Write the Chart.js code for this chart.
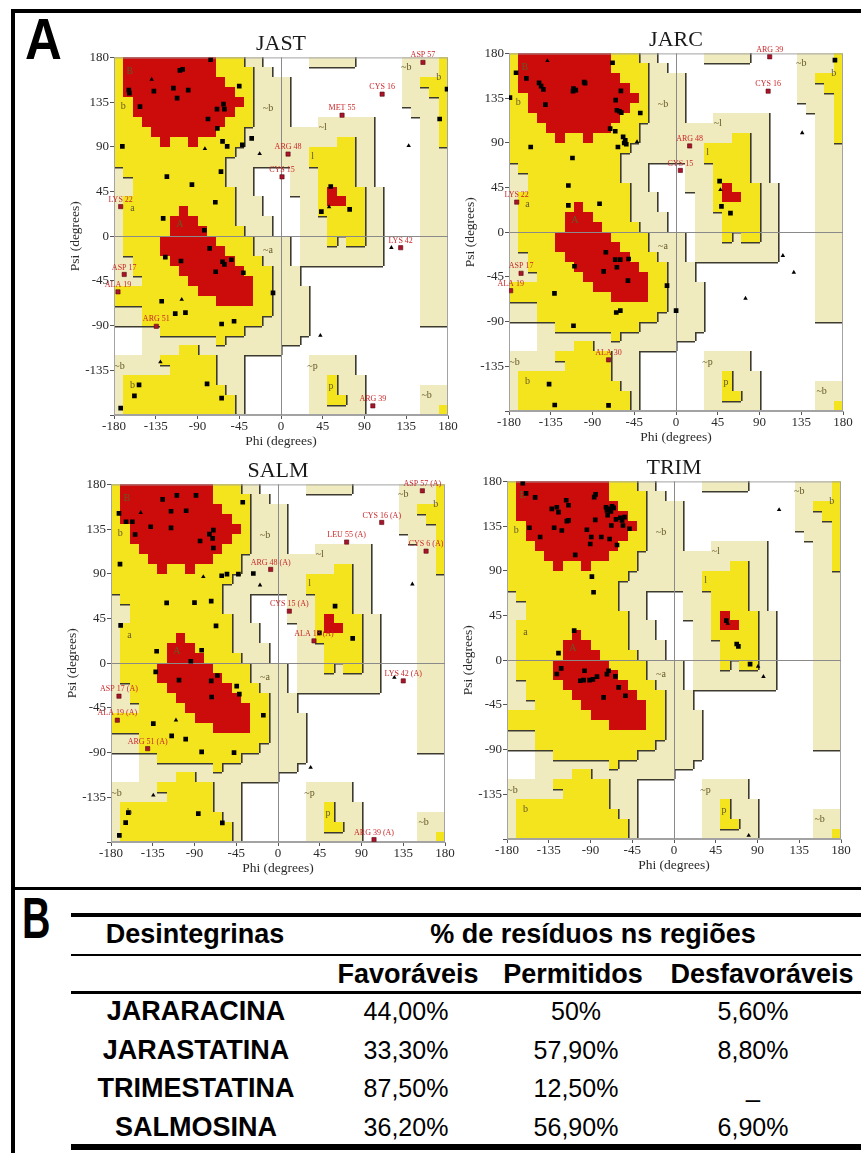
<!DOCTYPE html>
<html>
<head>
<meta charset="utf-8">
<title>Ramachandran plots - desintegrinas</title>
<script src="https://cdn.jsdelivr.net/npm/chart.js"></script>
<style>
    body {
        margin: 0;
        width: 861px;
        height: 1153px;
        position: relative;
        overflow: hidden;
        background: #fff;
        font-family: "Liberation Sans", Arial, sans-serif;
    }
    .bar { position: absolute; background: #000; }
    .panel {
        position: absolute;
        font-size: 58px;
        font-weight: bold;
        line-height: 1;
        transform-origin: 0 0;
    }
    canvas.rama { position: absolute; }
    .cell {
        position: absolute;
        transform: translate(-50%, -50%);
        white-space: nowrap;
        line-height: 1;
        color: #000;
    }
    .head { font-size: 27px; font-weight: bold; }
    .name { font-size: 27px; font-weight: bold; }
    .val  { font-size: 25px; }
</style>
</head>
<body>
    <!-- frame of the figure -->
    <div class="bar" style="left:11px; top:9px; width:850px; height:4px;"></div>
    <div class="bar" style="left:11px; top:9px; width:4px; height:1144px;"></div>
    <div class="bar" style="left:11px; top:887px; width:850px; height:3px;"></div>

    <div class="panel" style="left:25px; top:10px; transform:scaleX(0.88);">A</div>
    <div class="panel" style="left:22px; top:889px; transform:scaleX(0.68);">B</div>

    <canvas id="jast" class="rama" width="395" height="419" style="left:67px; top:31px;"></canvas>
    <canvas id="jarc" class="rama" width="395" height="419" style="left:462px; top:27px;"></canvas>
    <canvas id="salm" class="rama" width="395" height="419" style="left:64px; top:458px;"></canvas>
    <canvas id="trim" class="rama" width="395" height="419" style="left:460px; top:455px;"></canvas>

    <!-- table B -->
    <div class="bar" style="left:71px; top:913px; width:790px; height:4px;"></div>
    <div class="bar" style="left:71px; top:954px; width:790px; height:2px;"></div>
    <div class="bar" style="left:71px; top:991px; width:790px; height:3px;"></div>
    <div class="bar" style="left:71px; top:1144px; width:790px; height:6px;"></div>
    <div id="table"></div>

<script>
// Ramachandran region map (PROCHECK style), 10 degree cells.
// rows: psi 180 -> -180, columns: phi -180 -> 180
// R core, Y allowed, G generously allowed, . disallowed
const regionMap = [
    "YRRRRRRRRRRYYYGG.....GGGGG.....GGGGY",
    "YRRRRRRRRRRYYYYGG..............GGGGY",
    "YRRRRRRRRRRRYYYGGGG............GGYYY",
    "YRRRRRRRRRRRRYYGGGG............GGGYY",
    "YYRRRRRRRRRRRRYGGGG............GGGGY",
    "YYRRRRRRRRRRRYYGGGG.............GGGY",
    "YYYRRRRRRRRRYYYGGGG...GGGGGG.....GGY",
    "YYYYRRRRRRRYYYGGGGGGGGGGGGGG.....GGY",
    "YYYYYRYYRYYYYYGGGGGGGGGGYYGG.....GGY",
    "YYYYYYYYYYYYYGGGGGGGGYYYYYGG.....GGG",
    "YYYYYYYYYYYYGGGGGGGGGYYYYYGG.....GGG",
    "GYYYYYYYYYYYGGG....GGGYYYYGG.....GGG",
    "GGYYYYYYYYYYGGG....GGGYYYYGG.....GGG",
    "GGYYYYYYYYYYYGG....GGGYRYYYGG....GGG",
    "GYYYYYYYYYYYYGGG....GGYRRYYGG....GGG",
    "GYYYYYYRYYYYYGGG....GGYYYYYGG....GGG",
    "GYYYYYRRRYYYYGGGG...GGGYYYYGG....GGG",
    "GYYYYYRRRRYYYYGGG...GGGYYYYGG....GGG",
    "GYYYYRRRRRRYYYYGGGG.GGGYGYYGG....GGG",
    "GYYYYRRRRRRRYYYGGGG.GGGGGGGGG....GGG",
    "GGYYYYRRRRRRRYYYGGG.GGGGGGGGG....GGG",
    "GGYYYYYRRRRRRRYYYGGG.............GGG",
    "GGGYYYYYRRRRRRRYYGGG.............GGG",
    "YYYYYYYYYRRRRRRYYGGGG............GGG",
    "YYYYYYYYYYYRRRRYYGGGG............GGG",
    "GGGYYYYYYYYYYYYYYGGGG............GGG",
    "GGGYYYYYYYYYYYYYGGGGG............GGG",
    "...GGYYYYYYYYYGGGGGGG...............",
    "...GGGGGGGGYGGGGGGGG................",
    "...GGGGYYGGGGGGGGG..................",
    "GGGGGYYYYYYGGG.......GGGGG..........",
    "GGGGGGYYYYYGGG.......GGGGG..........",
    "GYYYYYYYYYYGGG.......GGYGGG.........",
    "GYYYYYYYYYYYGG.......GGYGGG......GGG",
    "GYYYYYYYYYYYYG.......GGYYGG......GGG",
    "GYYYYYYYYYYYYG.......GGGGGG......GGY"
];

const regionLabels = [
    ['B', -163, 166], ['b', -170, 131], ['~b', -14, 129], ['~l', 45, 110], ['l', 34, 80],
    ['a', -160, 28], ['A', -109, 12], ['~a', -14, -14], ['~b', 135, 170], ['b', 170, 160],
    ['~b', -174, -131], ['b', -160, -150], ['~p', 34, -131], ['p', 54, -151], ['~b', 157, -160]
];

// [phi, psi] of residues, glycines (triangles) and labelled outliers
const jastRes = [[-75.8,177.6],[-109,167],[-106,168],[-164,147],[-163.5,144],[-137,146],[-116,149],[-112,139],
    [-100,147],[-45,151],[-152,130.5],[-62,133],[-61,128],[-69,128],[-78.7,118],[-68.6,108.6],[-171,90.4],
    [-63,95.5],[-58,90.4],[-41.7,92],[-31.6,98.5],[-123,60],[-96,52],[-64.7,65],[-70.8,34.2],[-127,18],
    [-82.6,6],[-124.7,-21],[-76.9,-12.3],[-107.8,-25],[-63,-25.7],[-61,-28.4],[-53.5,-23.7],[-70.4,-35.8],
    [-40.6,-36.8],[-8.6,-57],[-128.6,-65.5],[-114,-78],[-103,-77],[-64,-88.4],[-50.6,-85.6],[-153,-149.6],
    [-158,-160.7],[-79.7,-148.6],[-64,-163],[-172.8,-173],[53.6,50],[43.5,24.8],[74,27],[179,148],[171,118]];
const jastGly = [[-139.4,157.8],[-82,88],[-23,83],[-107,-63.8],[42.4,-100],[-130,-126.7],[51.8,29.5],
    [137.6,91],[119,-11.6]];
const jastOut = [[153,175,'ASP 57'],[109,143,'CYS 16'],[65.8,121.8,'MET 55'],[7.6,82.7,'ARG 48'],
    [1.1,59.8,'CYS 15'],[-172.8,29.8,'LYS 22'],[129,-11.6,'LYS 42'],[-169,-38.5,'ASP 17'],
    [-175.7,-56,'ALA 19'],[-134.4,-90.7,'ARG 51'],[99,-170.8,'ARG 39']];

const jarcRes = [[-68.4,170.6],[-172.4,160.5],[-161.3,154.8],[-147.6,150.4],[-145.4,147],[-143,143.7],
    [-140.8,128.5],[-111,142],[-110.5,144.7],[-108,143],[-99,151],[-98,150],[-59.4,142.3],[-65,133],
    [-63.7,122.8],[-61,121.8],[-59,120.4],[-38.5,120],[-71,104.3],[-65.5,101.6],[-57,96],[-54.7,92.5],
    [-55.8,89.8],[-62.6,85.8],[-53.6,88.5],[-156.6,85.8],[-111.6,74.7],[-116,47],[-116,27],[-82.4,28.6],
    [47,51.5],[49,26],[58.7,19.2],[-75.6,-20.2],[-65.5,-27.6],[-60.1,-27.6],[-63.7,-35.3],[-109.4,-34.3],
    [-51.1,-27],[-78,-39.4],[-51.8,-48.8],[-9.7,-53.8],[-131,-61.6],[-64.4,-80.8],[-60,-79],[0.1,-79],
    [-110.5,-94.2],[-136.8,-153],[-130.7,-174],[-72.7,-174.3],[171.3,173.3],[-179,135.5]];
const jarcGly = [[-42,91],[47.9,42.7],[136,100],[115.2,-23.6],[127,-40.4],[74.9,-66.6],[-138.6,172.6]];
const jarcOut = [[101,176.6,'ARG 39'],[99.3,142,'CYS 16'],[14.7,86.8,'ARG 48'],[4.7,62.2,'CYS 15'],
    [-171.7,30.3,'LYS 22'],[-167,-41.4,'ASP 17'],[-178.2,-58.9,'ALA 19'],[-72.7,-128.5,'ALA 30']];

const salmRes = [[-171.4,150.8],[-163.8,142.4],[-157,142.4],[-154,129.6],[-137.2,137.4],[-124.3,165],
    [-115.3,153],[-115.3,136.3],[-109,169],[-99,153.5],[-88.4,169],[-84,123],[-74,130],[-69.7,134],
    [-70.4,125.6],[-69.7,116],[-38,162],[-170.3,99.7],[-60.7,88],[-55,89.7],[-42.7,89.7],[-26.6,90.3],
    [-120,60.8],[-90,61],[-72,62.5],[-66.8,37.6],[-169.6,38],[-130.8,12],[-131.8,-8.7],[-94,2],[-82.3,13],
    [-106.7,-17],[-72,-17.8],[-65.4,-12.4],[-44.5,-23],[-41.7,-31.2],[-71.5,-34],[-15.8,-52.4],
    [-134.4,-60.8],[-114.6,-73.2],[-99.5,-76.5],[-82.3,-89.3],[-47.4,-90],[-161.3,-150.4],[-164.2,-160.5],
    [-171,-173.3],[-85.9,-151.4],[-60,-160.8],[61.5,57.4],[44.6,30.6],[80.5,25]];
const salmGly = [[-148,151.5],[-80.5,87],[-19.4,78.6],[-110,-57.4],[35.2,-105],[-134.4,-133],
    [125.4,-14.4],[144.8,79.6]];
const salmOut = [[155.6,173.6,'ASP 57 (A)'],[111.8,141.7,'CYS 16 (A)'],[74,122,'LEU 55 (A)'],
    [159.6,112.8,'CYS 6 (A)'],[-7.9,94.4,'ARG 48 (A)'],[12.2,52.4,'CYS 15 (A)'],[38.8,22.5,'ALA 18 (A)'],
    [135,-17.8,'LYS 42 (A)'],[-171.4,-33.2,'ASP 17 (A)'],[-173.2,-57.4,'ALA 19 (A)'],
    [-140.5,-86,'ARG 51 (A)'],[103.5,-177.6,'ARG 39 (A)']];

const trimRes = [[-163,178.3],[-159.5,168],[-149.7,164],[-155.9,133.3],[-144.3,124],[-131.7,152.4],
    [-126.3,154],[-124.5,149],[-129.2,133.3],[-120.9,130.6],[-116.2,161],[-113.7,156],[-115.5,140],
    [-113.7,140.7],[-106.5,106],[-93.9,131.3],[-89.2,124],[-90.3,117],[-86,164.2],[-84.5,167],[-84.9,141.3],
    [-78.4,124],[-73.3,154],[-72.3,150.8],[-69.7,152.4],[-68,149.7],[-71.5,146],[-67.6,135.6],[-69.4,122],
    [-61.4,116],[-62.5,141.7],[-57.8,143.4],[-56,140.7],[-55,135.6],[-53.2,144],[-48,132.3],[-65,153.4],
    [-66.8,154.8],[-88.5,84.2],[-86.7,68.4],[-107.6,29.7],[-124.5,7.2],[-126.3,-13.9],[-121.6,-8.2],
    [-96.4,-10.6],[-101,-20.7],[-97.5,-20],[-91,-20],[-87.4,-19.3],[-83,-16.6],[-72.3,-14],[-70.5,-10.6],
    [-63.2,-16.3],[-75.9,-37.5],[-59.6,-27.4],[-52.4,-35.8],[56.4,39.8],[67.6,16.3],[69.4,14],[82,-3.9]];
const trimGly = [[58,37],[90.6,-6.2],[96.4,-16.6],[113.3,151.4],[80.5,-176.5]];
const trimOut = [];

// table B
const tableNames = ['JARARACINA', 'JARASTATINA', 'TRIMESTATINA', 'SALMOSINA'];
const favoraveis = ['44,00%', '33,30%', '87,50%', '36,20%'];
const permitidos = ['50%', '57,90%', '12,50%', '56,90%'];
const desfavoraveis = ['5,60%', '8,80%', '_', '6,90%'];

const SERIF = '"Liberation Serif", "Times New Roman", serif';
const regionColors = { R: '#cc0b0b', Y: '#f4e41e', G: '#f0eabf' };
const level = c => c === '.' ? 0 : (c === 'G' ? 1 : 2);

// paints the regions under everything else
const regionPlugin = {
    id: 'regions',
    beforeDraw(chart) {
        const { ctx, chartArea: a, scales: { x, y } } = chart;
        const xe = [], ye = [];
        for (let i = 0; i <= 36; i++) {
            xe.push(Math.round(x.getPixelForValue(-180 + 10 * i)));
            ye.push(Math.round(y.getPixelForValue(180 - 10 * i)));
        }
        ctx.save();
        for (let j = 0; j < 36; j++) {
            for (let i = 0; i < 36; i++) {
                const c = regionMap[j][i];
                if (c === '.') continue;
                ctx.fillStyle = regionColors[c];
                ctx.fillRect(xe[i], ye[j], xe[i + 1] - xe[i], ye[j + 1] - ye[j]);
            }
        }
        // dark edges on the right / lower side of each higher region
        ctx.strokeStyle = '#3d3b30';
        ctx.lineWidth = 1.6;
        ctx.beginPath();
        for (let j = 0; j < 36; j++) {
            for (let i = 0; i < 36; i++) {
                const l = level(regionMap[j][i]);
                if (i < 35 && l > level(regionMap[j][i + 1])) {
                    ctx.moveTo(xe[i + 1] + 0.8, ye[j]);
                    ctx.lineTo(xe[i + 1] + 0.8, ye[j + 1]);
                }
                if (j < 35 && l > level(regionMap[j + 1][i])) {
                    ctx.moveTo(xe[i], ye[j + 1] + 0.8);
                    ctx.lineTo(xe[i + 1], ye[j + 1] + 0.8);
                }
            }
        }
        ctx.stroke();
        ctx.font = '10px ' + SERIF;
        ctx.fillStyle = '#655a28';
        ctx.textAlign = 'center';
        ctx.textBaseline = 'middle';
        regionLabels.forEach(([t, px, py]) => {
            ctx.fillText(t, x.getPixelForValue(px), y.getPixelForValue(py));
        });
        ctx.strokeStyle = '#a3a3a3';
        ctx.lineWidth = 1;
        ctx.strokeRect(a.left + 0.5, a.top + 0.5, a.width - 1, a.height - 1);
        ctx.restore();
    }
};

// residue names next to the outliers
const outlierLabels = {
    id: 'outlierLabels',
    afterDatasetsDraw(chart) {
        const { ctx } = chart;
        const ds = chart.data.datasets[2];
        const meta = chart.getDatasetMeta(2);
        ctx.save();
        ctx.font = '8px ' + SERIF;
        ctx.fillStyle = '#c8282a';
        ctx.textAlign = 'center';
        ctx.textBaseline = 'middle';
        meta.data.forEach((pt, k) => ctx.fillText(ds.data[k].name, pt.x, pt.y - 7));
        ctx.restore();
    }
};

function axis(titleText, isX) {
    return {
        type: 'linear',
        min: -180,
        max: 180,
        afterFit: s => { if (isX) s.height = 35; else s.width = 47; },
        ticks: {
            stepSize: 45,
            autoSkip: false,
            maxRotation: 0,
            padding: isX ? 0 : 1,
            color: '#2a2a2a',
            font: { family: SERIF, size: 13 },
            callback: v => (!isX && v === -180) ? '' : v
        },
        grid: {
            color: c => (c.tick && c.tick.value === 0) ? '#8a8a8a' : 'rgba(0,0,0,0)',
            tickColor: '#555',
            tickLength: 4,
            lineWidth: 1
        },
        border: { display: true, color: '#a3a3a3' },
        title: {
            display: true,
            text: titleText,
            padding: 0,
            color: '#2a2a2a',
            font: { family: SERIF, size: 13.5 }
        }
    };
}

function makePlot(id, title, res, gly, out) {
    const pts = arr => arr.map(p => ({ x: p[0], y: p[1], name: p[2] }));
    return new Chart(document.getElementById(id), {
        type: 'scatter',
        data: {
            datasets: [
                { data: pts(res), pointStyle: 'rect', radius: 3.3, backgroundColor: '#000', borderColor: '#000', borderWidth: 0 },
                { data: pts(gly), pointStyle: 'triangle', radius: 2.6, backgroundColor: '#000', borderColor: '#000', borderWidth: 0 },
                { data: pts(out), pointStyle: 'rect', radius: 3, backgroundColor: '#a8142a', borderColor: '#5a0a12', borderWidth: 0.6 }
            ]
        },
        options: {
            responsive: false,
            animation: false,
            events: [],
            layout: { padding: { left: 0, right: 14, top: 0, bottom: 0 } },
            plugins: {
                legend: { display: false },
                tooltip: { enabled: false },
                title: {
                    display: true,
                    text: title,
                    fullSize: false,
                    padding: 0,
                    color: '#1a1a1a',
                    font: { family: SERIF, size: 22, weight: 'normal' }
                }
            },
            scales: {
                x: axis('Phi (degrees)', true),
                y: axis('Psi (degrees)', false)
            }
        },
        plugins: [regionPlugin, outlierLabels]
    });
}

makePlot('jast', 'JAST', jastRes, jastGly, jastOut);
makePlot('jarc', 'JARC', jarcRes, jarcGly, jarcOut);
makePlot('salm', 'SALM', salmRes, salmGly, salmOut);
makePlot('trim', 'TRIM', trimRes, trimGly, trimOut);

// table B
const table = document.getElementById('table');
function put(text, cls, x, y) {
    const d = document.createElement('div');
    d.className = 'cell ' + cls;
    d.style.left = x + 'px';
    d.style.top = y + 'px';
    d.textContent = text;
    table.appendChild(d);
}
put('Desintegrinas', 'head', 195, 934);
put('% de resíduos ns regiões', 'head', 593, 934);
put('Favoráveis', 'head', 408, 974);
put('Permitidos', 'head', 573, 974);
put('Desfavoráveis', 'head', 762, 974);
const rowY = [1011, 1050, 1088, 1127];
tableNames.forEach((n, k) => {
    put(n, 'name', 196, rowY[k]);
    put(favoraveis[k], 'val', 406, rowY[k]);
    put(permitidos[k], 'val', 576, rowY[k]);
    put(desfavoraveis[k], 'val', 753, rowY[k]);
});
</script>
</body>
</html>
